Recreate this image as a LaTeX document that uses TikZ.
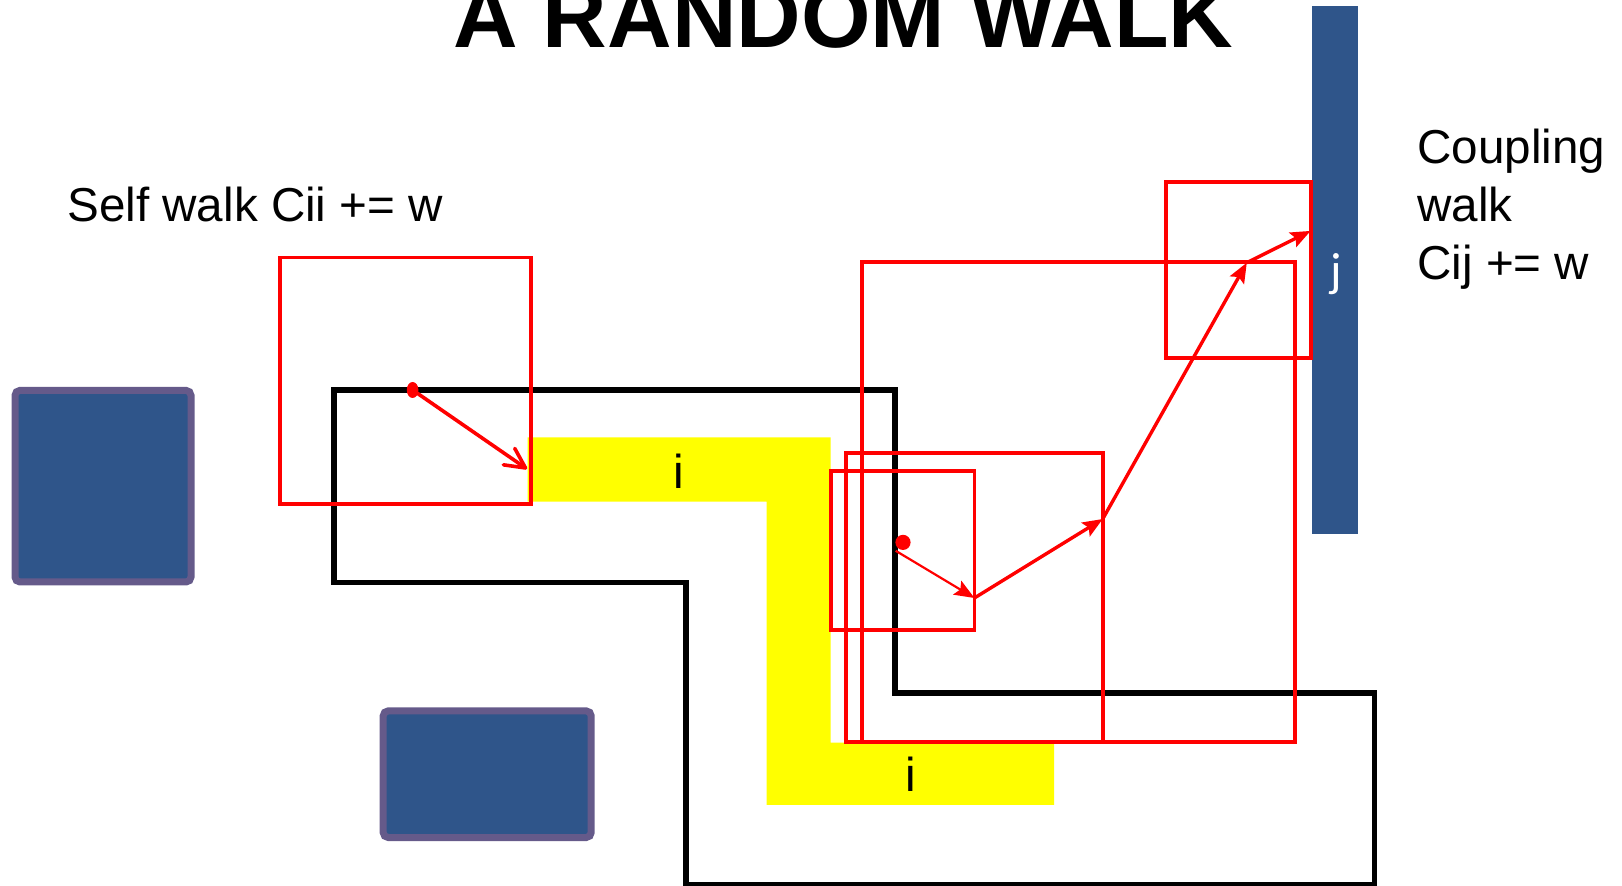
\documentclass[tikz,border=0pt]{standalone}
\usepackage{fontspec}
\setmainfont{Liberation Sans}
\newfontfamily\calfont{Carlito}
\usetikzlibrary{arrows.meta,shapes.geometric}
\definecolor{slateblue}{RGB}{47,85,138}
\definecolor{edgeviolet}{RGB}{101,90,138}
\definecolor{walkred}{RGB}{255,0,0}
\definecolor{regionyellow}{RGB}{255,255,0}

\begin{document}
\begin{tikzpicture}[
  x=0.5pt, y=-0.5pt,
  >=Stealth,
  block/.style={draw=edgeviolet, fill=slateblue, line width=3.5pt, rounded corners=2.5pt, inner sep=0pt},
  bar/.style={fill=slateblue, inner sep=0pt},
  wall/.style={draw, line width=2.7pt},
  window/.style={draw=walkred, line width=1.9pt},
  dot/.style={ellipse, fill=walkred, inner sep=0pt},
  hop/.style={draw=walkred, line width=1.7pt, -{Stealth[length=10pt, width=8pt, inset=1.8pt]}},
  firsthop/.style={draw=walkred, line width=1.8pt, line cap=round, -{Straight Barb[length=10pt, width=10pt, round]}},
  txt/.style={font=\fontsize{23.8}{29}\selectfont, inner sep=0pt}
]
  \clip (0,0) rectangle (1622,886);
  \node[font=\fontsize{44.7}{50}\selectfont\bfseries, inner sep=0pt, anchor=base] (title) at (843.5,47.6) {A RANDOM WALK};

  \fill[regionyellow] (527.5,437.5) -- (830.6,437.5) -- (830.6,742.7) -- (1054,742.7) -- (1054,804.8)
    -- (766.5,804.8) -- (766.5,501.7) -- (527.5,501.7) -- cycle;
  \node[txt, anchor=base] (itop) at (678.6,488.3) {i};
  \node[txt, anchor=base] (ibottom) at (911,791.7) {i};

  \draw[wall] (334.1,390) -- (894.8,390) -- (894.8,693) -- (1374.7,693) -- (1374.7,884.4)
    -- (685.8,884.4) -- (685.8,582.4) -- (334.1,582.4) -- cycle;

  \node[block, minimum width=88pt, minimum height=95.8pt] (blockleft) at (103,486.2) {};
  \node[block, minimum width=104pt, minimum height=63.3pt] (blockbottom) at (487.2,774.2) {};
  \node[bar, minimum width=23.3pt, minimum height=263.8pt] (jbar) at (1334.9,270) {};
  \node[font=\calfont\fontsize{24}{29}\selectfont, text=white, inner sep=0pt, anchor=base] (jlabel) at (1336,287) {j};

  \node[txt, anchor=base west] (selfwalk) at (67,222) {Self walk Cii += w};
  \node[txt, align=left, anchor=base west] (coupling) at (1417,280) {Coupling\\walk\\Cij += w};

  \draw[window] (280.3,257.6) rectangle (530.6,503.8);
  \draw[window] (830.6,470.7) rectangle (974.4,630);
  \draw[window] (846.1,453) rectangle (1102.7,741.7);
  \draw[window] (861.7,261.7) rectangle (1295.1,741.7);
  \draw[window] (1165.8,182) rectangle (1310.6,357.9);

  \node[dot, minimum width=5.8pt, minimum height=8pt] (selfstart) at (412.6,390) {};
  \node[dot, minimum size=7.6pt] (walkstart) at (903,542.4) {};
  \coordinate (self1) at (527,469);
  \coordinate (walk0) at (895.7,550.8);
  \coordinate (walk1) at (974.4,598);
  \coordinate (walk2) at (1102.7,519);
  \coordinate (walk3) at (1246.8,262.7);
  \coordinate (walk4) at (1310.6,230.9);

  \draw[firsthop] (selfstart.center) -- (self1);
  \draw[hop, line width=1.1pt] (walk0) -- (walk1);
  \draw[hop] (walk1) -- (walk2);
  \draw[hop] (walk2) -- (walk3);
  \draw[hop] (walk3) -- (walk4);
\end{tikzpicture}
\end{document}
